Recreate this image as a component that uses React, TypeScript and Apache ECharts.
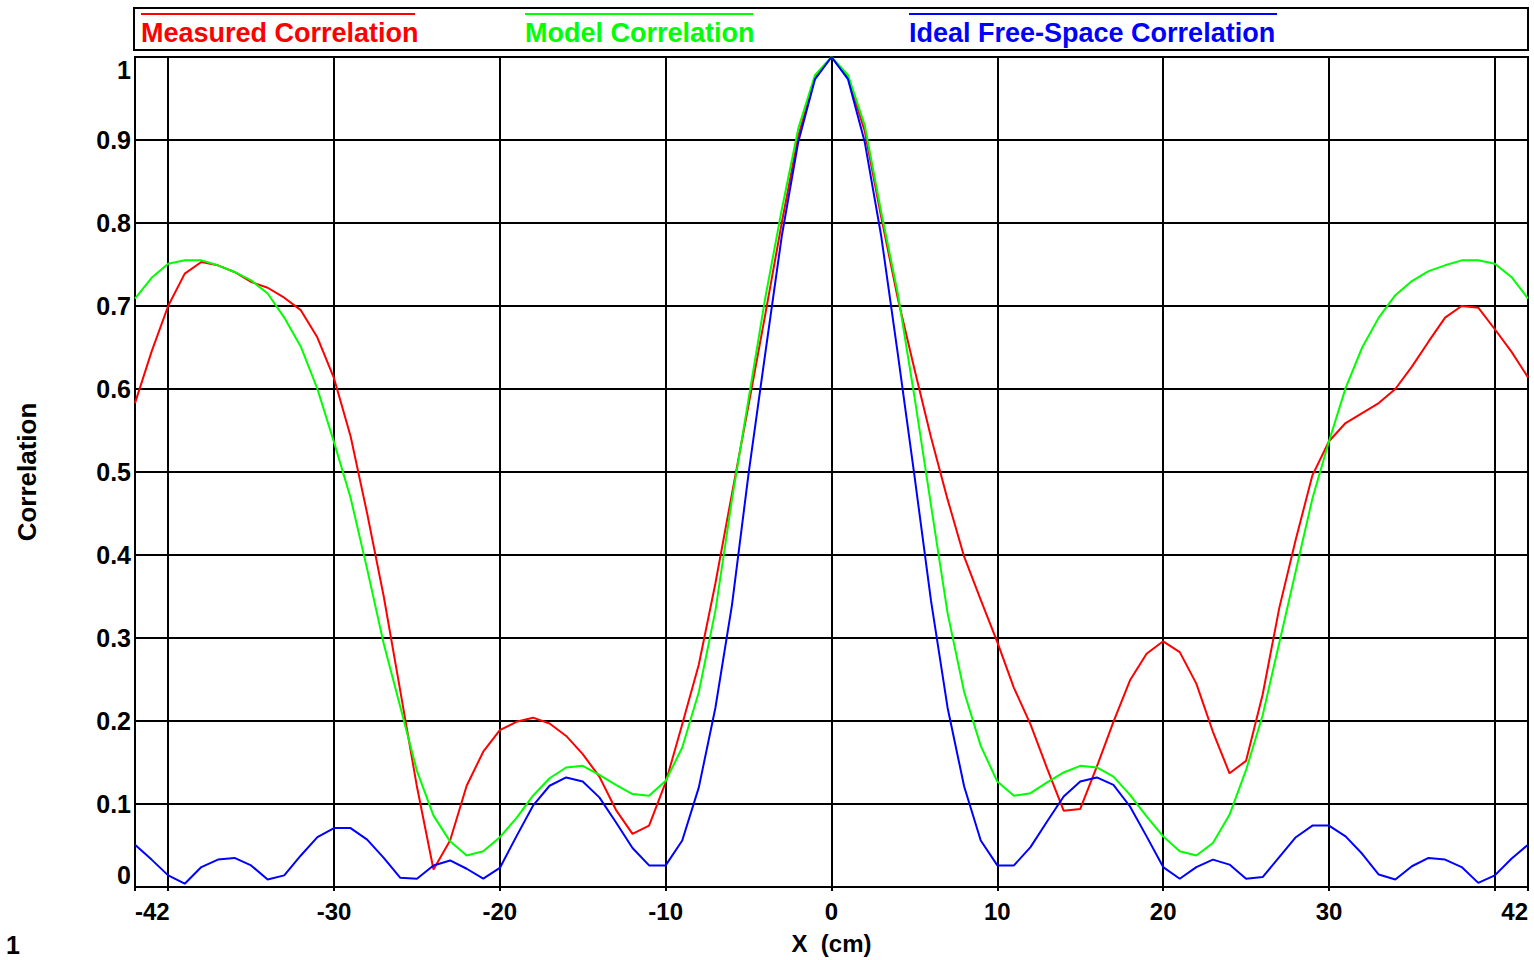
import React, { useEffect, useRef } from "react";
import * as echarts from "echarts";

const xValues = [
  -42, -41, -40, -39, -38, -37, -36, -35, -34, -33, -32, -31, -30, -29, -28, -27, -26, -25, -24, -23, -22,
  -21, -20, -19, -18, -17, -16, -15, -14, -13, -12, -11, -10, -9, -8, -7, -6, -5, -4, -3, -2, -1, 0,
  1, 2, 3, 4, 5, 6, 7, 8, 9, 10, 11, 12, 13, 14, 15, 16, 17, 18, 19, 20, 21, 22, 23, 24, 25, 26, 27,
  28, 29, 30, 31, 32, 33, 34, 35, 36, 37, 38, 39, 40, 41, 42,
];

const measured = [
  0.583, 0.645, 0.7, 0.739, 0.753, 0.749, 0.741, 0.729, 0.722, 0.71, 0.695, 0.662, 0.613, 0.543, 0.45,
  0.35, 0.236, 0.121, 0.021, 0.056, 0.122, 0.163, 0.189, 0.199, 0.204, 0.197, 0.182, 0.16, 0.133, 0.093,
  0.064, 0.074, 0.126, 0.196, 0.268, 0.366, 0.474, 0.581, 0.689, 0.8, 0.905, 0.975, 1.0, 0.975, 0.911,
  0.807, 0.709, 0.624, 0.542, 0.467, 0.398, 0.346, 0.295, 0.24, 0.196, 0.143, 0.092, 0.094, 0.145, 0.199,
  0.249, 0.281, 0.296, 0.283, 0.245, 0.187, 0.137, 0.152, 0.232, 0.336, 0.419, 0.496, 0.537, 0.559, 0.571,
  0.583, 0.6, 0.627, 0.657, 0.686, 0.7, 0.698, 0.672, 0.645, 0.614,
];

const model = [
  0.709, 0.734, 0.751, 0.755, 0.755, 0.749, 0.741, 0.731, 0.715, 0.686, 0.651, 0.6, 0.536, 0.469, 0.383,
  0.293, 0.217, 0.14, 0.086, 0.055, 0.038, 0.043, 0.06, 0.083, 0.11, 0.131, 0.144, 0.146, 0.135, 0.123,
  0.112, 0.11, 0.128, 0.168, 0.235, 0.333, 0.467, 0.588, 0.709, 0.816, 0.914, 0.978, 1.0, 0.978, 0.918,
  0.813, 0.715, 0.591, 0.46, 0.33, 0.235, 0.17, 0.127, 0.11, 0.113, 0.126, 0.138, 0.146, 0.144, 0.133,
  0.111, 0.085, 0.061, 0.043, 0.038, 0.053, 0.087, 0.141, 0.207, 0.294, 0.381, 0.468, 0.537, 0.601, 0.65,
  0.686, 0.713, 0.73, 0.742, 0.749, 0.755, 0.755, 0.751, 0.735, 0.709,
];

const ideal = [
  0.051, 0.033, 0.014, 0.004, 0.024, 0.033, 0.035, 0.026, 0.009, 0.014, 0.038, 0.06, 0.071, 0.071, 0.057,
  0.035, 0.011, 0.01, 0.026, 0.032, 0.022, 0.01, 0.023, 0.061, 0.098, 0.122, 0.132, 0.127, 0.108, 0.078,
  0.047, 0.026, 0.026, 0.056, 0.12, 0.216, 0.34, 0.498, 0.642, 0.784, 0.898, 0.973, 1.0, 0.973, 0.898,
  0.784, 0.642, 0.496, 0.345, 0.216, 0.121, 0.056, 0.026, 0.026, 0.048, 0.079, 0.109, 0.127, 0.132, 0.123,
  0.097, 0.061, 0.024, 0.01, 0.024, 0.033, 0.027, 0.01, 0.012, 0.036, 0.06, 0.074, 0.074, 0.061, 0.04,
  0.015, 0.009, 0.025, 0.035, 0.033, 0.024, 0.005, 0.014, 0.034, 0.051,
];

const seriesNames = ["Measured Correlation", "Model Correlation", "Ideal Free-Space Correlation"];
const seriesColors = ["#ff0000", "#00ff00", "#0000ff"];
const hiddenXLabels = [-40, 40];

const FONT = '"Liberation Sans", Arial, Helvetica, sans-serif';

export default function App() {
  const ref = useRef<HTMLDivElement>(null);

  useEffect(() => {
    if (!ref.current) return;
    const chart = echarts.init(ref.current, null, { renderer: "svg" });
    const allData = [measured, model, ideal];

    const legendX = [141, 525, 909];
    const legendW = [274, 228, 368];

    const graphic: any[] = [
      {
        type: "rect",
        shape: { x: 134, y: 8, width: 1394, height: 42 },
        style: { fill: "#fff", stroke: "#000", lineWidth: 2 },
        z: 10,
      },
    ];
    seriesNames.forEach((n, i) => {
      graphic.push({
        type: "line",
        shape: { x1: legendX[i], y1: 14, x2: legendX[i] + legendW[i], y2: 14 },
        style: { stroke: seriesColors[i], lineWidth: 2 },
        z: 11,
      });
      graphic.push({
        type: "text",
        x: legendX[i],
        y: 33,
        style: {
          text: n,
          fill: seriesColors[i],
          font: `bold 27px ${FONT}`,
          verticalAlign: "middle",
          align: "left",
        },
        z: 11,
      });
    });
    graphic.push({
      type: "text",
      x: 6,
      y: 945,
      style: {
        text: "1",
        fill: "#000",
        font: `bold 25px ${FONT}`,
        verticalAlign: "middle",
        align: "left",
      },
    });

    chart.setOption({
      animation: false,
      backgroundColor: "#fff",
      textStyle: { fontFamily: FONT },
      grid: {
        left: 135,
        right: 6,
        top: 57,
        bottom: 73,
        show: true,
        borderColor: "#000",
        borderWidth: 2,
        containLabel: false,
        outerBoundsMode: "none",
      },
      graphic,
      xAxis: {
        type: "value",
        min: -42,
        max: 42,
        splitNumber: 8,
        name: "X  (cm)",
        nameLocation: "middle",
        nameGap: 44,
        nameTextStyle: { fontSize: 24, fontWeight: "bold", color: "#000", fontFamily: FONT },
        axisLine: { show: true, lineStyle: { color: "#000", width: 2 } },
        axisTick: { show: true, length: 4, lineStyle: { color: "#000", width: 2 } },
        splitLine: { show: true, lineStyle: { color: "#000", width: 2 } },
        axisLabel: {
          show: true,
          showMinLabel: true,
          showMaxLabel: true,
          alignMinLabel: "left",
          alignMaxLabel: "right",
          margin: 12,
          fontSize: 24,
          fontWeight: "bold",
          color: "#000",
          fontFamily: FONT,
          formatter: (v: number) => (hiddenXLabels.includes(v) ? "" : String(v)),
        },
      },
      yAxis: {
        type: "value",
        min: 0,
        max: 1,
        interval: 0.1,
        name: "Correlation",
        nameLocation: "middle",
        nameRotate: 90,
        nameGap: 95,
        nameTextStyle: { fontSize: 26, fontWeight: "bold", color: "#000", fontFamily: FONT },
        axisLine: { show: true, lineStyle: { color: "#000", width: 2 } },
        axisTick: { show: false },
        splitLine: { show: true, lineStyle: { color: "#000", width: 2 } },
        axisLabel: {
          margin: 4,
          fontSize: 25,
          fontWeight: "bold",
          color: "#000",
          fontFamily: FONT,
          showMinLabel: true,
          showMaxLabel: true,
          verticalAlignMinLabel: "bottom",
          verticalAlignMaxLabel: "top",
          formatter: (v: number) => {
            const r = Math.round(v * 10) / 10;
            return r === 0 ? "0" : r === 1 ? "1" : r.toFixed(1);
          },
        },
      },
      series: seriesNames.map((n, i) => ({
        name: n,
        type: "line",
        showSymbol: false,
        symbol: "none",
        clip: false,
        data: xValues.map((x, j) => [x, allData[i][j]]),
        lineStyle: { color: seriesColors[i], width: 2 },
        itemStyle: { color: seriesColors[i] },
        z: 3 + i,
      })),
    });

    return () => chart.dispose();
  }, []);

  return (
    <div
      ref={ref}
      style={{ position: "absolute", left: 0, top: 0, width: 1534, height: 960, background: "#fff" }}
    />
  );
}
